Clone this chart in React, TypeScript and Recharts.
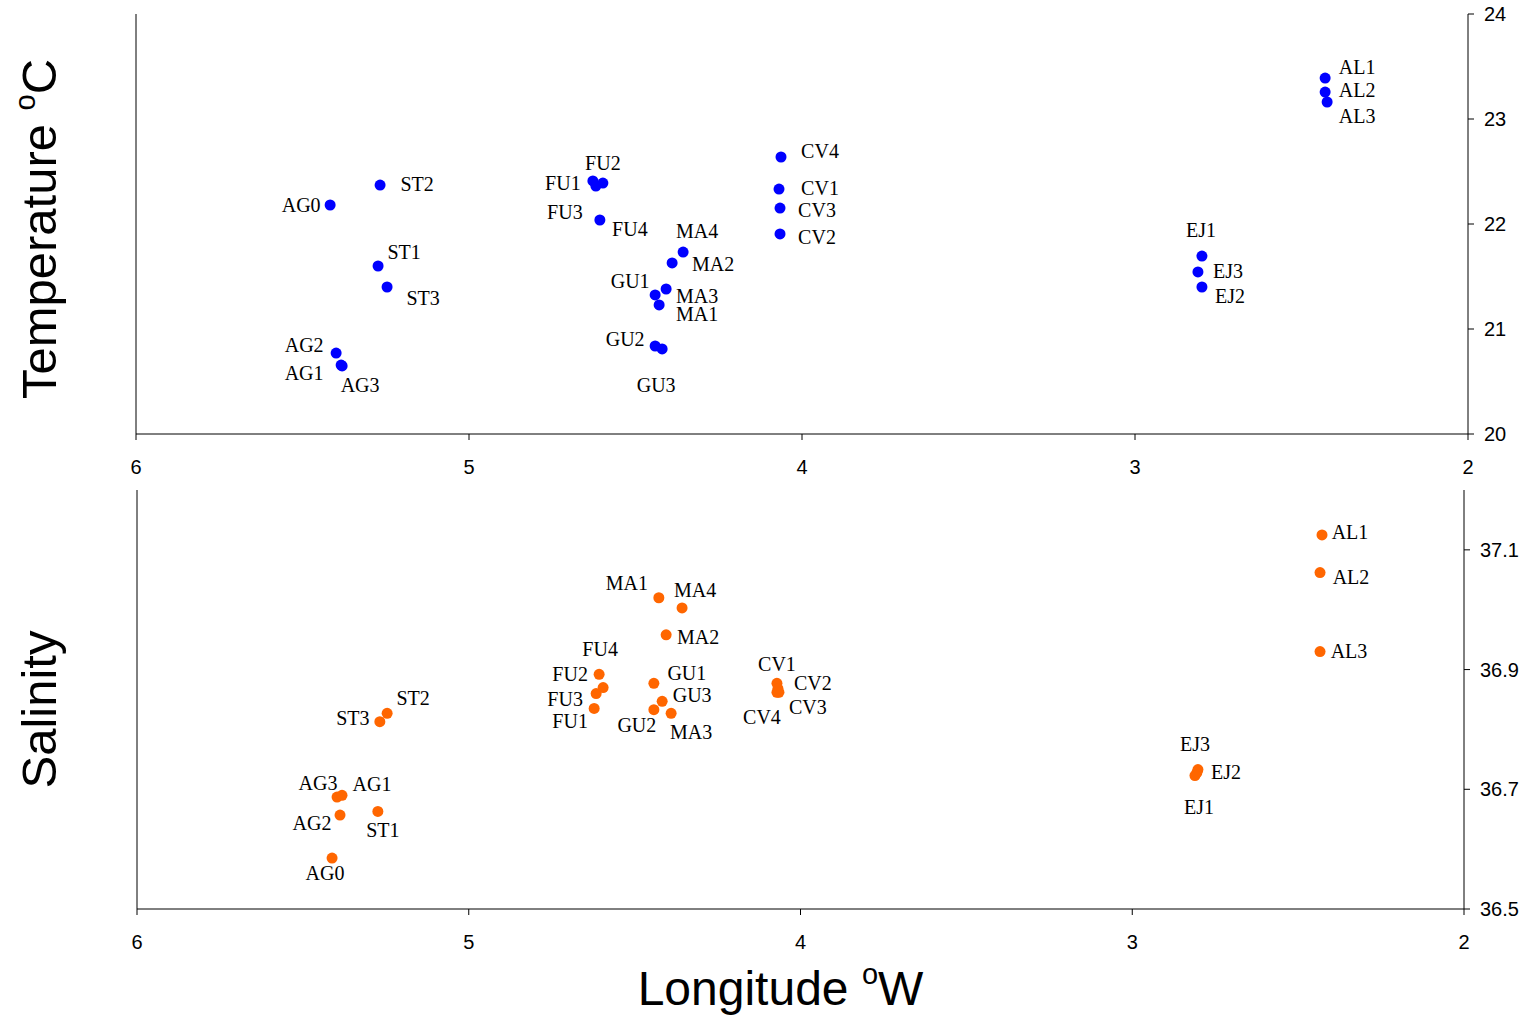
import React from 'react';
import { ScatterChart, Scatter, XAxis, YAxis } from 'recharts';

// Temperature panel (top)
const tempStations = ['AL1', 'AL2', 'AL3', 'CV4', 'CV1', 'CV3', 'CV2', 'FU1', 'FU2', 'FU4', 'FU3', 'AG0', 'ST2', 'ST1', 'ST3', 'AG2', 'AG1', 'AG3', 'MA4', 'MA2', 'GU1', 'MA3', 'MA1', 'GU2', 'GU3', 'EJ1', 'EJ3', 'EJ2'];
const tempLongitude = [2.429, 2.429, 2.423, 4.063, 4.069, 4.066, 4.066, 4.628, 4.598, 4.619, 4.607, 5.417, 5.267, 5.273, 5.246, 5.399, 5.384, 5.381, 4.357, 4.39, 4.441, 4.408, 4.429, 4.441, 4.42, 2.799, 2.811, 2.799];
const temperature = [23.39, 23.257, 23.162, 22.638, 22.333, 22.152, 21.905, 22.41, 22.39, 22.362, 22.038, 22.181, 22.371, 21.6, 21.4, 20.771, 20.657, 20.648, 21.733, 21.629, 21.324, 21.381, 21.229, 20.838, 20.81, 21.695, 21.543, 21.4];

// Salinity panel (bottom)
const salStations = ['AL1', 'AL2', 'AL3', 'MA1', 'MA4', 'MA2', 'FU4', 'FU2', 'FU3', 'FU1', 'GU1', 'GU3', 'GU2', 'MA3', 'CV1', 'CV2', 'CV3', 'CV4', 'ST2', 'ST3', 'AG3', 'AG1', 'AG2', 'ST1', 'AG0', 'EJ3', 'EJ2', 'EJ1'];
const salLongitude = [2.428, 2.434, 2.434, 4.427, 4.357, 4.405, 4.607, 4.595, 4.616, 4.622, 4.442, 4.417, 4.442, 4.39, 4.071, 4.068, 4.065, 4.071, 5.246, 5.268, 5.397, 5.382, 5.388, 5.274, 5.412, 2.802, 2.805, 2.811];
const salinity = [37.125, 37.062, 36.93, 37.02, 37.003, 36.958, 36.892, 36.87, 36.86, 36.835, 36.877, 36.847, 36.833, 36.827, 36.877, 36.868, 36.862, 36.862, 36.827, 36.813, 36.687, 36.69, 36.657, 36.663, 36.585, 36.733, 36.728, 36.723];

const lonTicks = [2, 3, 4, 5, 6];
const tempTicks = [20, 21, 22, 23, 24];
const salTicks = [36.5, 36.7, 36.9, 37.1];

// label placement relative to the dot (px)
const tempLabelOffset: Record<string, [number, number]> = {
  AL1: [32, -11], AL2: [32, -2], AL3: [30, 14], CV4: [39, -6], CV1: [41, -1], CV3: [37, 2], CV2: [37, 3],
  FU1: [-30, 2], FU2: [0, -20], FU4: [34, 43], FU3: [-35, -8], AG0: [-29, 0], ST2: [37, -1], ST1: [26, -14],
  ST3: [36, 11], AG2: [-32, -8], AG1: [-37, 8], AG3: [18, 19], MA4: [14, -21], MA2: [41, 1], GU1: [-25, -14],
  MA3: [31, 7], MA1: [38, 9], GU2: [-30, -7], GU3: [-6, 36], EJ1: [-1, -26], EJ3: [30, -1], EJ2: [28, 9],
};
const salLabelOffset: Record<string, [number, number]> = {
  AL1: [28, -3], AL2: [31, 4], AL3: [29, -1], MA1: [-32, -15], MA4: [13, -18], MA2: [32, 2], FU4: [1, -25],
  FU2: [-33, -14], FU3: [-31, 5], FU1: [-24, 13], GU1: [33, -10], GU3: [30, -6], GU2: [-17, 15], MA3: [20, 19],
  CV1: [0, -19], CV2: [35, -6], CV3: [29, 15], CV4: [-15, 25], ST2: [26, -15], ST3: [-27, -4], AG3: [-19, -14],
  AG1: [30, -11], AG2: [-28, 8], ST1: [5, 19], AG0: [-7, 15], EJ3: [-3, -26], EJ2: [29, -1], EJ1: [4, 31],
};

const tempData = tempStations.map((name, i) => ({ name, lon: tempLongitude[i], value: temperature[i] }));
const salData = salStations.map((name, i) => ({ name, lon: salLongitude[i], value: salinity[i] }));

const sans = '"Liberation Sans", Arial, sans-serif';
const serif = '"Liberation Serif", "Times New Roman", serif';
const tickStyle = { fontFamily: sans, fontSize: 20, fill: '#000' };

const StationDot = (props: any) => {
  const { cx, cy, payload, color, offsets, r } = props;
  if (cx == null || cy == null) return null;
  const off = offsets[payload.name] || [20, 0];
  return (
    <g>
      <circle cx={cx} cy={cy} r={r} fill={color} />
      <text
        x={cx + off[0]}
        y={cy + off[1]}
        textAnchor="middle"
        dominantBaseline="central"
        fontFamily={serif}
        fontSize={20}
        fill="#000"
      >
        {payload.name}
      </text>
    </g>
  );
};

const VerticalTitle = ({ viewBox, main, sup, tail, shift = 0 }: any) => {
  const cy = viewBox.y + viewBox.height / 2 + shift;
  return (
    <text
      x={56}
      y={cy}
      transform={`rotate(-90 56 ${cy})`}
      textAnchor="middle"
      fontFamily={sans}
      fontSize={49}
      fill="#000"
    >
      {main}
      {sup && <tspan fontSize={29} dy={-21}>{sup}</tspan>}
      {tail && <tspan dy={sup ? 21 : 0}>{tail}</tspan>}
    </text>
  );
};

const BottomTitle = ({ viewBox }: any) => {
  const cx = viewBox.x + viewBox.width / 2 - 20;
  return (
    <text x={cx} y={viewBox.y + 96} textAnchor="middle" fontFamily={sans} fontSize={48} fill="#000">
      Longitude <tspan fontSize={29} dy={-21}>o</tspan><tspan dy={21}>W</tspan>
    </text>
  );
};

const App: React.FC = () => {
  return (
    <div style={{ position: 'absolute', left: 0, top: 0, width: 1528, height: 1019, background: '#fff' }}>
      <div style={{ position: 'absolute', left: 0, top: 0 }}>
        <ScatterChart width={1528} height={480} margin={{ top: 14, right: 0, bottom: 0, left: 0 }}>
          <XAxis xAxisId="top" orientation="top" type="number" dataKey="lon" domain={[2, 6]} reversed height={0} tick={false} tickLine={false} axisLine={{ stroke: '#000' }} />
          <XAxis
            xAxisId="bottom"
            type="number"
            dataKey="lon"
            domain={[2, 6]}
            reversed
            ticks={lonTicks}
            height={46}
            tickSize={6}
            tickMargin={20}
            tick={tickStyle}
            axisLine={{ stroke: '#000' }}
            tickLine={{ stroke: '#000' }}
          />
          <YAxis
            yAxisId="left"
            type="number"
            domain={[20, 24]}
            width={136}
            tick={false}
            tickLine={false}
            axisLine={{ stroke: '#000' }}
            label={{ content: (p: any) => <VerticalTitle viewBox={p.viewBox} main="Temperature " sup="o" tail="C" shift={5} /> }}
          />
          <YAxis
            yAxisId="right"
            orientation="right"
            type="number"
            dataKey="value"
            domain={[20, 24]}
            ticks={tempTicks}
            width={60}
            tickSize={6}
            tickMargin={10}
            tick={tickStyle}
            axisLine={{ stroke: '#000' }}
            tickLine={{ stroke: '#000' }}
          />
          <Scatter
            data={tempData}
            xAxisId="bottom"
            yAxisId="right"
            dataKey="value"
            isAnimationActive={false}
            shape={(p: any) => <StationDot {...p} color="#0000FF" offsets={tempLabelOffset} r={5.5} />}
          />
        </ScatterChart>
      </div>
      <div style={{ position: 'absolute', left: 0, top: 480 }}>
        <ScatterChart width={1528} height={539} margin={{ top: 10, right: 0, bottom: 0, left: 0 }}>
          <XAxis xAxisId="top" orientation="top" type="number" dataKey="lon" domain={[2, 6]} reversed height={0} tick={false} tickLine={false} axisLine={{ stroke: '#000' }} />
          <XAxis
            xAxisId="bottom"
            type="number"
            dataKey="lon"
            domain={[2, 6]}
            reversed
            ticks={lonTicks}
            height={110}
            tickSize={6}
            tickMargin={20}
            tick={tickStyle}
            axisLine={{ stroke: '#000' }}
            tickLine={{ stroke: '#000' }}
            label={{ content: (p: any) => <BottomTitle viewBox={p.viewBox} /> }}
          />
          <YAxis
            yAxisId="left"
            type="number"
            domain={[36.5, 37.2]}
            width={137}
            tick={false}
            tickLine={false}
            axisLine={{ stroke: '#000' }}
            label={{ content: (p: any) => <VerticalTitle viewBox={p.viewBox} main="Salinity" shift={10} /> }}
          />
          <YAxis
            yAxisId="right"
            orientation="right"
            type="number"
            dataKey="value"
            domain={[36.5, 37.2]}
            ticks={salTicks}
            width={64}
            tickSize={6}
            tickMargin={10}
            tick={tickStyle}
            axisLine={{ stroke: '#000' }}
            tickLine={{ stroke: '#000' }}
          />
          <Scatter
            data={salData}
            xAxisId="bottom"
            yAxisId="right"
            dataKey="value"
            isAnimationActive={false}
            shape={(p: any) => <StationDot {...p} color="#FF6600" offsets={salLabelOffset} r={5.5} />}
          />
        </ScatterChart>
      </div>
    </div>
  );
};

export default App;
